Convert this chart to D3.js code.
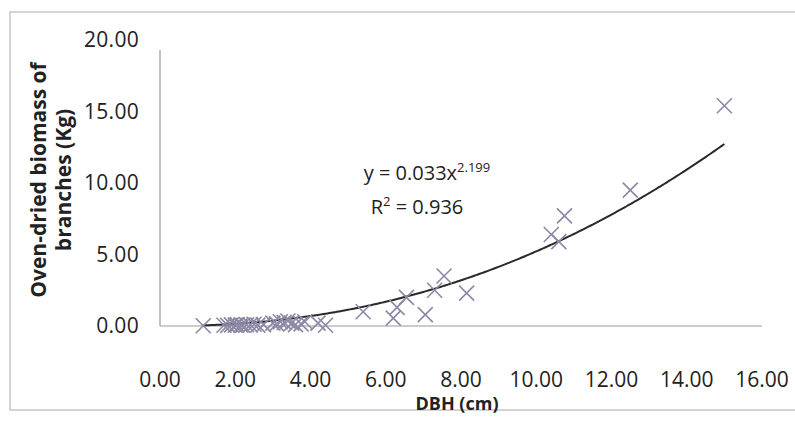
<!DOCTYPE html>
<html>
<head>
<meta charset="utf-8">
<script src="https://cdn.jsdelivr.net/npm/d3@7"></script>
<style>
  html, body { margin: 0; padding: 0; background: #ffffff; }
  svg { display: block; }
</style>
</head>
<body>
<svg id="chart" width="795" height="425"></svg>
<script>
// ---- data ----
const dbh = [1.15, 1.7, 1.8, 1.9, 2.0, 2.05, 2.15, 2.2, 2.3, 2.4, 2.5, 2.6, 2.75,
             3.0, 3.1, 3.2, 3.3, 3.4, 3.5, 3.6, 3.75, 3.85, 4.2, 4.4,
             5.4, 6.2, 6.3, 6.55, 7.05, 7.3, 7.55, 8.15,
             10.4, 10.6, 10.75, 12.5, 15.0];
const biomass = [0.02, 0.05, 0.04, 0.08, 0.06, 0.1, 0.07, 0.05, 0.09, 0.08, 0.12, 0.06, 0.1,
                 0.2, 0.15, 0.3, 0.25, 0.35, 0.2, 0.1, 0.15, 0.3, 0.2, 0.05,
                 1.0, 0.55, 1.3, 2.0, 0.8, 2.5, 3.5, 2.3,
                 6.4, 5.9, 7.7, 9.5, 15.4];
const xTicks = [0, 2, 4, 6, 8, 10, 12, 14, 16];
const yTicks = [0, 5, 10, 15, 20];
const trendA = 0.033;
const trendB = 2.199;
const eqLabel = "y = 0.033x";
const eqExp = "2.199";
const r2Label = "= 0.936";
const xTitle = "DBH (cm)";
const yTitle = ["Oven-dried biomass of", "branches (Kg)"];

// ---- layout ----
const svg = d3.select("#chart");
const font = "'Open Sans', sans-serif";
const x = d3.scaleLinear().domain([0, 16]).range([160, 762]);
const y = d3.scaleLinear().domain([0, 20]).range([326, 40]);

// outer frame
svg.append("rect").attr("x", 10).attr("y", 12).attr("width", 800).attr("height", 398)
  .attr("fill", "none").attr("stroke", "#b8b8b8").attr("stroke-width", 1.2);

// axis lines
svg.append("line").attr("x1", x(0)).attr("x2", x(0)).attr("y1", 50).attr("y2", y(0))
  .attr("stroke", "#9a9a9a").attr("stroke-width", 1.2);
svg.append("line").attr("x1", x(0)).attr("x2", x(16)).attr("y1", y(0)).attr("y2", y(0))
  .attr("stroke", "#9a9a9a").attr("stroke-width", 1.2);

// y tick labels
svg.append("g").selectAll("text").data(yTicks).join("text")
  .attr("x", 139).attr("y", d => y(d)).attr("dy", "0.35em")
  .attr("text-anchor", "end")
  .attr("font-family", font).attr("font-size", 21).attr("letter-spacing", 0.3).attr("fill", "#222")
  .text(d => d3.format(".2f")(d));

// x tick labels
svg.append("g").selectAll("text").data(xTicks).join("text")
  .attr("x", d => x(d)).attr("y", 387)
  .attr("text-anchor", "middle")
  .attr("font-family", font).attr("font-size", 21).attr("fill", "#222")
  .text(d => d3.format(".2f")(d));

// axis titles
svg.append("text").attr("x", 457).attr("y", 410).attr("text-anchor", "middle")
  .attr("font-family", font).attr("font-size", 18).attr("font-weight", "bold").attr("fill", "#222")
  .text(xTitle);

const yt = svg.append("text").attr("transform", "translate(0,180) rotate(-90)")
  .attr("text-anchor", "middle")
  .attr("font-family", font).attr("font-size", 21).attr("font-weight", "bold").attr("fill", "#222");
yt.append("tspan").attr("x", 0).attr("y", 46).text(yTitle[0]);
yt.append("tspan").attr("x", 0).attr("y", 71).text(yTitle[1]);

// trendline
const xs = d3.range(d3.min(dbh), d3.max(dbh) + 0.001, 0.05);
const line = d3.line().x(d => x(d)).y(d => y(trendA * Math.pow(d, trendB))).curve(d3.curveLinear);
svg.append("path").datum(xs).attr("d", line)
  .attr("fill", "none").attr("stroke", "#2a2a2a").attr("stroke-width", 2);

// markers (X)
const pts = dbh.map((d, i) => [d, biomass[i]]);
const s = 7.5;
svg.append("g").selectAll("path").data(pts).join("path")
  .attr("d", d => {
    const cx = x(d[0]), cy = y(d[1]);
    return `M${cx - s},${cy - s}L${cx + s},${cy + s}M${cx - s},${cy + s}L${cx + s},${cy - s}`;
  })
  .attr("stroke", "#8c88a6").attr("stroke-width", 1.6).attr("fill", "none");

// equation labels
const eq = svg.append("text").attr("x", 427).attr("y", 180).attr("text-anchor", "middle")
  .attr("font-family", font).attr("font-size", 20).attr("fill", "#222");
eq.append("tspan").text(eqLabel);
eq.append("tspan").attr("dy", -8).attr("font-size", 13).text(eqExp);

const r2 = svg.append("text").attr("x", 417).attr("y", 214).attr("text-anchor", "middle")
  .attr("font-family", font).attr("font-size", 20).attr("fill", "#222");
r2.append("tspan").text("R");
r2.append("tspan").attr("dy", -8).attr("font-size", 13).text("2");
r2.append("tspan").attr("dy", 8).text(" " + r2Label);
</script>
</body>
</html>
